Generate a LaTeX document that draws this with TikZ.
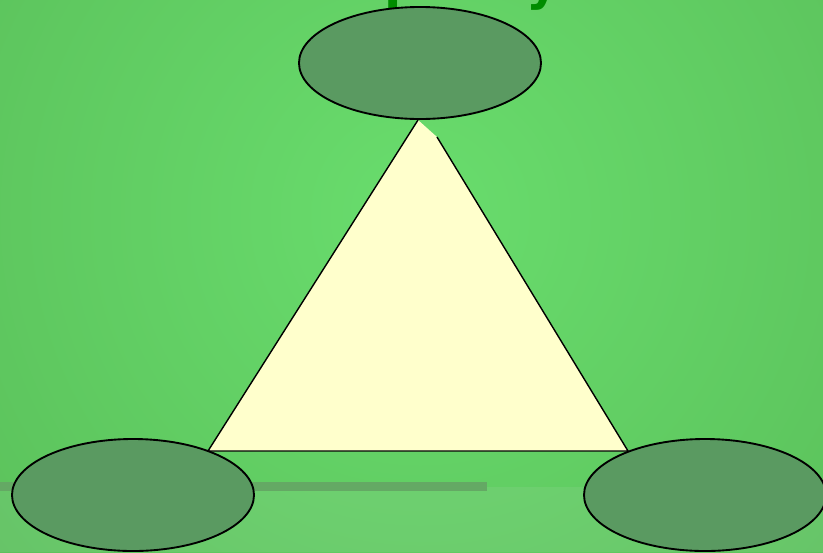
\documentclass[tikz,border=0pt]{standalone}
\usepackage{fontspec}
\newfontfamily\titlefont{DejaVu Sans}
\usetikzlibrary{shapes.geometric}
\definecolor{bgin}{HTML}{69DD6D}
\definecolor{bgout}{HTML}{5BC15B}
\definecolor{lobe}{HTML}{5A9A61}
\definecolor{cream}{HTML}{FFFFCC}
\definecolor{ttlgreen}{HTML}{008C00}
\definecolor{shelf}{HTML}{64A964}

\begin{document}
\begin{tikzpicture}[
    x=0.03cm, y=-0.03cm,
    line cap=butt, line join=miter,
    blob/.style={ellipse, draw=black, fill=lobe, line width=1.6pt,
                 minimum width=7.26cm, minimum height=3.36cm, inner sep=0pt},
    rim/.style={black, line width=1.2pt},
    ttl/.style={font=\titlefont\bfseries\fontsize{43}{50}\selectfont,
                text=ttlgreen, anchor=base, inner sep=0pt},
]

% ============================================================
% Frame and background
% ============================================================
\useasboundingbox (0,0) rectangle (823,552);
\begin{scope}
  \clip (0,0) rectangle (823,552);
  \shade[inner color=bgin, outer color=bgout] (420,215) circle (560);
  \fill[white!60!lobe, opacity=0.12] (0,487) rectangle (823,552);
  \fill[shelf] (0,482) rectangle (487,491);
  % title, only its descenders fall inside the frame
  \node[ttl] (title) at (419,-1) {Simplicity};
\end{scope}

% ============================================================
% Triangle
% ============================================================
\coordinate (apex) at (418,120);
\coordinate (gap)  at (437,137);
\coordinate (bl)   at (208,451);
\coordinate (br)   at (628,451);

\fill[cream] (apex) -- (gap) -- (br) -- (bl) -- cycle;
\draw[rim] (gap) -- (br) -- (bl) -- (apex);

% ============================================================
% Corner ellipses
% ============================================================
\node[blob] (top)   at (420,63)  {};
\node[blob] (left)  at (133,495) {};
\node[blob] (right) at (705,495) {};

\end{tikzpicture}
\end{document}
